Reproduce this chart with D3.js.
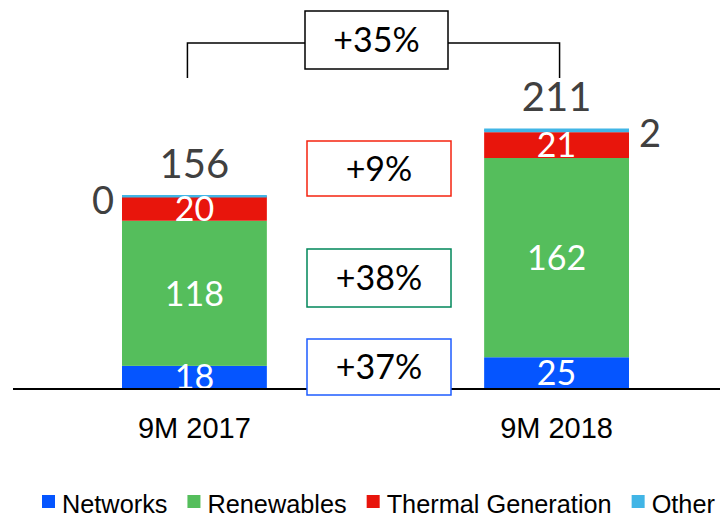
<!DOCTYPE html>
<html><head><meta charset="utf-8">
<script src="https://cdn.jsdelivr.net/npm/d3@7"></script>
<style>body{margin:0;background:#fff}svg{display:block}</style>
</head><body>
<svg id="c" width="720" height="519"></svg>
<script>
const categories = ["9M 2017", "9M 2018"];
const seriesNames = ["Networks", "Renewables", "Thermal Generation", "Other"];
const networks = [18, 25];
const renewables = [118, 162];
const thermal = [20, 21];
const other = [0, 2];
const totals = [156, 211];
const seriesColors = ["#0555FF", "#55BE5C", "#E8150C", "#41B5E6"];
const growthLabels = ["+35%", "+9%", "+38%", "+37%"];
const growthColors = ["#000000", "#F5230F", "#00875A", "#1E5CFF"];

const svg = d3.select("#c");
const valueFont = "Lato, 'Noto Sans', sans-serif";
const axisFont = "'Liberation Sans', Arial, sans-serif";

const rows = categories.map((c, i) => ({
  cat: c, "Networks": networks[i], "Renewables": renewables[i],
  "Thermal Generation": thermal[i], "Other": other[i], total: totals[i]
}));
const stack = d3.stack().keys(seriesNames)(rows);

const x = d3.scaleBand().domain(categories).range([122, 629]).paddingInner(0.6).paddingOuter(0);
const y = d3.scaleLinear().domain([0, 211]).range([388, 128.5]);
const color = d3.scaleOrdinal().domain(seriesNames).range(seriesColors);

// bars
const g = svg.append("g");
stack.forEach(s => {
  g.selectAll(null).data(s).enter().append("rect")
    .attr("x", d => x(d.data.cat))
    .attr("width", x.bandwidth())
    .attr("y", d => y(d[1]))
    .attr("height", d => y(d[0]) - y(d[1]))
    .attr("fill", color(s.key));
});
// top edge of the "Other" segment (visible even for zero values)
g.selectAll(null).data(stack[3]).enter().append("line")
  .attr("x1", d => x(d.data.cat))
  .attr("x2", d => x(d.data.cat) + x.bandwidth())
  .attr("y1", d => y(d[1]))
  .attr("y2", d => y(d[1]))
  .attr("stroke", color("Other"))
  .attr("stroke-width", 2.5);

// segment labels inside
stack.forEach(s => {
  if (s.key === "Other") return;
  g.selectAll(null).data(s).enter().append("text")
    .attr("x", d => x(d.data.cat) + x.bandwidth() / 2)
    .attr("y", d => (y(d[0]) + y(d[1])) / 2)
    .attr("dy", "0.36em")
    .attr("text-anchor", "middle")
    .attr("fill", "#fff")
    .attr("font-family", valueFont)
    .attr("font-size", 34)
    .text(d => d[1] - d[0]);
});

// Other labels (outside)
const otherS = stack[3];
g.selectAll(null).data(otherS).enter().append("text")
  .attr("x", (d, i) => i === 0 ? x(d.data.cat) - 8 : x(d.data.cat) + x.bandwidth() + 10)
  .attr("y", d => y(d[1]) + 4)
  .attr("dy", "0.36em")
  .attr("text-anchor", (d, i) => i === 0 ? "end" : "start")
  .attr("fill", "#404040")
  .attr("font-family", valueFont)
  .attr("font-size", 38)
  .text(d => d[1] - d[0]);

// totals
g.selectAll(null).data(rows).enter().append("text")
  .attr("x", d => x(d.cat) + x.bandwidth() / 2)
  .attr("y", d => y(d.total) - 18)
  .attr("text-anchor", "middle")
  .attr("fill", "#404040")
  .attr("font-family", valueFont)
  .attr("font-size", 40)
  .text(d => d.total);

// baseline
svg.append("line").attr("x1", 13).attr("x2", 720).attr("y1", y(0) + 1).attr("y2", y(0) + 1)
  .attr("stroke", "#000").attr("stroke-width", 2);

// bracket
const bx1 = x(categories[0]) + x.bandwidth() / 2 - 7;
const bx2 = x(categories[1]) + x.bandwidth() / 2 + 3;
svg.append("path")
  .attr("d", `M${bx1},78V43H${bx2}V78`)
  .attr("fill", "none").attr("stroke", "#000").attr("stroke-width", 1.5);

// growth boxes
const boxes = [
  {x: 305, y: 11, w: 143, h: 58},
  {x: 307, y: 141, w: 144, h: 55},
  {x: 307, y: 249, w: 144, h: 58},
  {x: 307, y: 339, w: 144, h: 56}
];
boxes.forEach((b, i) => {
  svg.append("rect").attr("x", b.x).attr("y", b.y).attr("width", b.w).attr("height", b.h)
    .attr("fill", "#fff").attr("stroke", growthColors[i]).attr("stroke-width", 1.5);
  svg.append("text").attr("x", b.x + b.w / 2).attr("y", b.y + b.h / 2).attr("dy", "0.36em")
    .attr("text-anchor", "middle").attr("fill", "#000")
    .attr("font-family", valueFont).attr("font-size", 34).text(growthLabels[i]);
});

// category labels
svg.selectAll(null).data(categories).enter().append("text")
  .attr("x", d => x(d) + x.bandwidth() / 2)
  .attr("y", 438)
  .attr("text-anchor", "middle")
  .attr("fill", "#000")
  .attr("font-family", axisFont)
  .attr("font-size", 29)
  .text(d => d);

// legend
const leg = svg.append("g");
let lx = 42;
seriesNames.forEach((n, i) => {
  leg.append("rect").attr("x", lx).attr("y", 495).attr("width", 13).attr("height", 13).attr("fill", seriesColors[i]);
  const t = leg.append("text").attr("x", lx + 20).attr("y", 513)
    .attr("font-family", axisFont).attr("font-size", 25.3).attr("fill", "#000").text(n);
  lx += 20 + t.node().getComputedTextLength() + 20;
});
</script>
</body></html>
